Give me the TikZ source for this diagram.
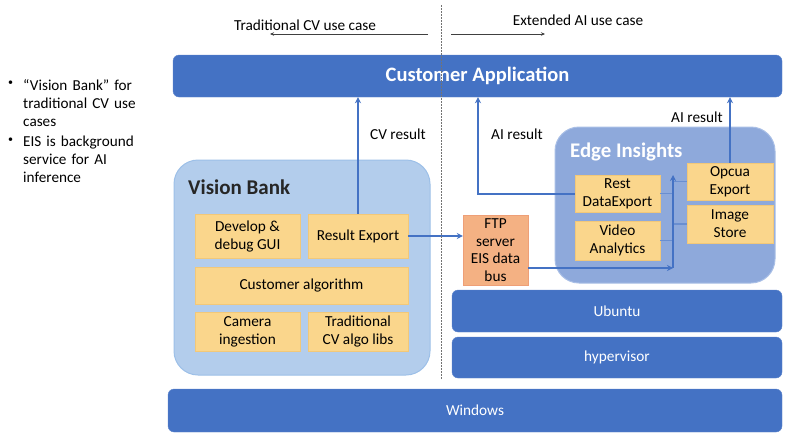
\documentclass[tikz,border=0pt]{standalone}
\usepackage{fontspec}
\setmainfont{Carlito}
\usetikzlibrary{arrows.meta}
\definecolor{dblue}{HTML}{4472C4}
\definecolor{vbfill}{HTML}{B3CDEC}
\definecolor{vbline}{HTML}{9DC0E8}
\definecolor{eifill}{HTML}{8EA9DB}
\definecolor{eiline}{HTML}{A9BFE6}
\definecolor{yfill}{HTML}{FAD68C}
\definecolor{yline}{HTML}{F2C879}
\definecolor{sfill}{HTML}{F4B183}
\definecolor{sline}{HTML}{EE9F77}
\begin{document}
\begin{tikzpicture}[x=1pt,y=-1pt,
  bar/.style={draw=dblue!85!white, fill=dblue, rounded corners=6pt, text=white, font=\fontsize{15.3}{17}\selectfont, align=center, inner sep=0pt},
  ybox/.style={draw=yline, fill=yfill, text=black, font=\fontsize{15.3}{18}\selectfont, align=center, inner sep=0pt},
  group/.style={rounded corners=24pt, line width=1pt},
  title/.style={font=\fontsize{21}{24}\selectfont\bfseries, anchor=west, inner sep=0pt},
  lbl/.style={font=\fontsize{15.3}{17}\selectfont, inner sep=0pt},
  conn/.style={draw=dblue, line width=2pt, -{Stealth[length=6pt,width=6pt]}},
  stub/.style={draw=dblue!80!white, line width=1.2pt},
  toparrow/.style={draw=black!75, line width=0.6pt, -{Stealth[length=4pt,width=3.5pt]}},
  bullet/.style={font=\fontsize{15.2}{18}\selectfont, anchor=north west, align=left, inner sep=0pt, text width=140pt}
]
\useasboundingbox (0,0) rectangle (793,440);
\fill[white] (0,0) rectangle (793,440);

% left notes
\node[bullet, font=\fontsize{10}{18}\selectfont] (n1) at (8,81) {\textbullet};
\node[bullet] (t1) at (23,79) {“Vision Bank” for\\traditional CV use\\cases};
\node[bullet, font=\fontsize{10}{18}\selectfont] (n2) at (8,138) {\textbullet};
\node[bullet] (t2) at (23,136) {EIS is background\\service for AI\\inference};

% top labels
\node[lbl] (tcv) at (305,25) {Traditional CV use case};
\node[lbl] (eai) at (578,20) {Extended AI use case};
\coordinate (la) at (428,34);
\coordinate (lb) at (270,34);
\coordinate (ra) at (451,34);
\coordinate (rb) at (545,34);
\draw[toparrow] (la) -- (lb);
\draw[toparrow] (ra) -- (rb);

% customer application
\node[bar, minimum width=609pt, minimum height=42pt, font=\fontsize{20.5}{23}\selectfont\bfseries] (capp) at (477.5,76) {Customer Application};

% Vision Bank
\node[group, draw=vbline, fill=vbfill, minimum width=256pt, minimum height=215pt, inner sep=0pt] (vb) at (302,267.5) {};
\node[title, text=black!85] (vbt) at (188,187) {Vision Bank};
\node[ybox, minimum width=105pt, minimum height=44pt] (dev) at (247.5,236) {Develop \&\\debug GUI};
\node[ybox, minimum width=100pt, minimum height=44pt] (resexp) at (358,236) {Result Export};
\node[ybox, minimum width=213pt, minimum height=37pt] (calg) at (301.5,285.5) {Customer algorithm};
\node[ybox, minimum width=105pt, minimum height=39pt] (cam) at (247.5,331.5) {Camera\\ingestion};
\node[ybox, minimum width=100pt, minimum height=39pt] (trad) at (358,331.5) {Traditional\\CV algo libs};

% FTP
\node[draw=sline, fill=sfill, minimum width=65pt, minimum height=70pt, inner sep=0pt, align=center, font=\fontsize{15.3}{17.5}\selectfont] (ftp) at (495.5,250) {FTP\\server\\EIS data\\bus};

% Edge Insights
\node[group, draw=eiline, fill=eifill, minimum width=220pt, minimum height=156pt, inner sep=0pt] (ei) at (665,205) {};
\node[title, text=white, font=\fontsize{20.8}{24}\selectfont\bfseries] (eit) at (570,152) {Edge Insights};
\node[ybox, minimum width=85pt, minimum height=37pt] (rest) at (617.5,193.5) {Rest\\DataExport};
\node[ybox, minimum width=85pt, minimum height=39pt] (video) at (617.5,240.5) {Video\\Analytics};
\node[ybox, minimum width=86pt, minimum height=37pt] (opcua) at (730,181.5) {Opcua\\Export};
\node[ybox, minimum width=86pt, minimum height=38pt] (imgst) at (730,224) {Image\\Store};

% OS layers
\node[bar, minimum width=330pt, minimum height=42pt] (ubuntu) at (617,311) {Ubuntu};
\node[bar, minimum width=330pt, minimum height=41pt] (hyper) at (617,357.5) {hypervisor};
\node[bar, minimum width=614pt, minimum height=43pt] (win) at (475,410.5) {Windows};

% connectors
\draw[conn] (resexp.north) -- (resexp.north |- capp.south);
\node[lbl] (cvr) at (398,134) {CV result};
\draw[conn, line width=1.5pt] (resexp.east) -- (resexp.east -| ftp.west);
\coordinate (aiL) at (478,0);
\draw[conn] (rest.west) -| (aiL |- capp.south);
\node[lbl] (air1) at (517,134) {AI result};
\draw[conn] (opcua.north) -- (opcua.north |- capp.south);
\node[lbl] (air2) at (697,117) {AI result};

\coordinate (busS) at (528,268);
\coordinate (busB) at (673,268);
\coordinate (busT) at (673,175);
\draw[stub] (rest.east) -- (rest.east -| busB);
\draw[stub] (video.east) -- (video.east -| busB);
\draw[stub] (busB |- opcua.west) -- (opcua.west);
\draw[stub] (busB |- imgst.west) -- (imgst.west);
\draw[conn, line width=1.8pt] (busS) -- (busB);
\draw[conn, line width=1.8pt] (busB) -- (busT);

% divider
\coordinate (dvT) at (441,5);
\coordinate (dvB) at (441,380);
\draw[black!55, dash pattern=on 1.5pt off 1.5pt, line width=0.6pt] (dvT) -- (dvB);
\end{tikzpicture}
\end{document}
